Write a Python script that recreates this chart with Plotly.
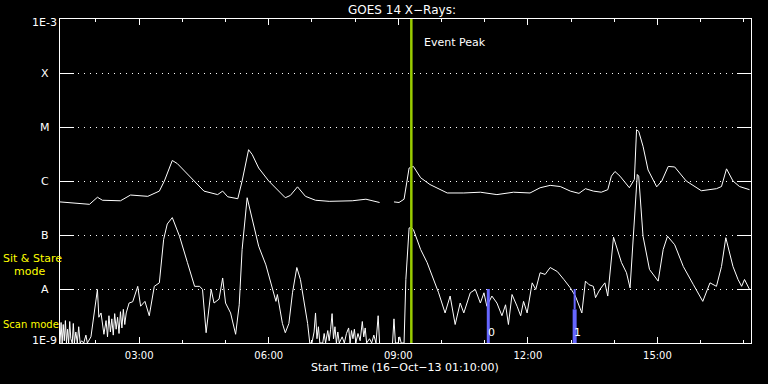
import plotly.graph_objects as go
import pandas as pd
import numpy as np

START = "2013-10-16 01:10:00"
END = "2013-10-16 17:10:00"

# Long channel (1-8 A) : minutes after start, flux W/m^2
long_min = [0, 41, 52, 59, 84, 98, 122, 138, 145, 156, 163, 184, 200, 219, 226, 233, 247,
            253, 262, 267, 276, 290, 313, 320, 330, 341, 355, 374, 406, 425, 444, 454,
            464, 471, 478, 485, 491, 501, 514, 538, 561, 584, 607, 630, 653, 667, 681, 695,
            709, 721, 730, 741, 752, 761, 766, 771, 778, 791, 798, 801, 804, 810, 817, 829,
            836, 845, 854, 870, 891, 912, 919, 926, 935, 944, 958]
long_flux = [4.1e-7, 3.7e-7, 5.0e-7, 4.4e-7, 4.3e-7, 5.5e-7, 5.2e-7, 6.5e-7, 1.0e-6, 2.4e-6,
             2.1e-6, 1.07e-6, 6.5e-7, 5.6e-7, 6.5e-7, 5.1e-7, 4.7e-7,
             1.0e-6, 3.8e-6, 3.1e-6, 1.74e-6, 1.0e-6, 4.9e-7, 5.4e-7, 7.8e-7, 5.2e-7, 4.4e-7,
             4.2e-7, 4.3e-7, 4.6e-7, 4.0e-7, None,
             4.1e-7, 4.0e-7, 4.6e-7, 1.74e-6, 1.86e-6, 1.15e-6, 8.6e-7, 6.0e-7, 6.0e-7, 6.2e-7,
             5.6e-7, 6.2e-7, 6.0e-7, 7.5e-7, 8.3e-7, 7.9e-7,
             6.5e-7, 5.9e-7, 7.2e-7, 6.5e-7, 6.2e-7, 6.9e-7, 1.23e-6, 1.5e-6, 1.23e-6, 7.5e-7,
             1.07e-6, 8.9e-6, 8.3e-6, 4.4e-6, 1.6e-6, 7.8e-7,
             1.0e-6, 1.86e-6, 1.82e-6, 1.0e-6, 6.6e-7, 7.2e-7, 7.9e-7, 1.68e-6, 1.0e-6, 7.9e-7,
             6.9e-7]

# Short channel (0.5-4 A)
short_min = [0, 1.5, 3, 4.5, 6, 7.5, 9, 10.5, 12, 13.5, 15, 17, 18.5, 20, 22, 24, 26, 28, 30,
             33, 36, 38, 43, 47.5, 52, 54, 57, 61, 64, 66, 68, 70, 72, 74, 76, 78, 80, 82, 84,
             86, 88, 90, 92, 96, 101, 108, 112, 118, 124, 131, 138, 144, 149, 156, 166, 177,
             187, 194, 198, 203, 210, 214, 221, 226, 230, 237, 244, 249, 253, 260, 267, 276,
             286, 295, 300, 302, 309, 313, 318, 323, 329, 334, 339, 344, 347, 350, 353, 355,
             357, 359, 361, 365, 367, 369, 372, 374, 376, 378, 380, 382, 384, 386, 388, 392,
             395, 398, 401, 403, 405, 407, 409, 411, 414, 417, 420, 422, 424, 426, 430, 433,
             436, 439, 442, 444, 454, 462, 464, 466, 470, 472, 474, 478, 480.5, 485, 488, 491,
             501, 510, 519, 526, 535, 542, 549, 556, 561, 570, 577, 584, 589, 593, 600, 607,
             614, 619, 623, 628, 635, 640, 644, 649, 656, 661, 667, 674, 681, 691, 700, 709,
             716, 723, 725, 730, 735, 741, 744, 750, 757, 761, 766, 769, 780, 787, 792, 797,
             802, 804, 810, 819, 831, 838, 844, 854, 866, 880, 893, 903, 912, 919, 925, 935,
             942, 947, 951, 958]
short_flux = [1.0e-9, 2.4e-9, 1.0e-9, 2.2e-9, 1.1e-9, 2.6e-9, 1.0e-9, 1.8e-9, 1.0e-9, 2.5e-9,
              1.2e-9, 1.0e-9, 2.3e-9, 1.0e-9, 1.6e-9, 1.0e-9, 2.0e-9, 1.0e-9, 1.1e-9,
              1.0e-9, 1.4e-9, 1.0e-9, 1.3e-9, 3.6e-9, 9.8e-9, 3.0e-9, 3.6e-9, 1.45e-9, 2.6e-9,
              1.3e-9, 3.2e-9, 1.6e-9, 2.8e-9, 1.4e-9, 3.5e-9, 1.8e-9, 3.0e-9, 1.5e-9, 3.8e-9,
              1.9e-9, 4.2e-9, 2.2e-9, 3.6e-9, 5.5e-9, 5.8e-9, 1.12e-8, 4.8e-9, 5.9e-9, 3.2e-9,
              1.12e-8, 1.3e-8, 8.3e-8, 1.6e-7, 2.1e-7, 9.5e-8, 3.1e-8,
              1.12e-8, 1.12e-8, 9.8e-9, 1.55e-9, 9.8e-9, 5.5e-9, 6.5e-9, 1.6e-8, 5.5e-9, 3.6e-9,
              1.45e-9, 5.1e-9, 5.4e-8, 4.9e-7, 1.95e-7, 6.2e-8,
              2.8e-8, 9.8e-9, 5.9e-9, 7.9e-9, 2.3e-9, 1.55e-9, 2.3e-9, 8.5e-9, 2.5e-8, 1.5e-8,
              5.5e-9, 2.3e-9, 1.0e-9, 1.0e-9, 1.6e-9, 3.6e-9,
              1.2e-9, 2.0e-9, 1.0e-9, 1.0e-9, 1.5e-9, 1.0e-9, 1.7e-9, 1.1e-9, 1.8e-9, 3.5e-9,
              1.2e-9, 2.0e-9, 1.0e-9, 1.6e-9, 1.0e-9, 1.3e-9,
              1.0e-9, 1.5e-9, 1.9e-9, 1.0e-9, 1.7e-9, 1.2e-9, 1.8e-9, 1.0e-9, 1.5e-9, 1.1e-9,
              2.5e-9, 1.3e-9, 1.9e-9, 1.0e-9, 1.2e-9, 1.0e-9,
              1.4e-9, 1.0e-9, 3.2e-9, 1.0e-9, None, 1.0e-9, 2.8e-9, 1.0e-9, 1.0e-9, 1.3e-9,
              1.0e-9, 1.0e-9, 1.5e-8, 1.35e-7, 1.38e-7, 1.26e-7,
              5.4e-8, 3.1e-8, 1.5e-8, 8.5e-9, 3.6e-9, 7.4e-9, 2.2e-9, 5.5e-9, 3.6e-9, 8.5e-9,
              9.8e-9, 5.5e-9, 8.5e-9, 4.8e-9, 7.4e-9, 5.5e-9,
              3.2e-9, 5.1e-9, 2.2e-9, 7.9e-9, 4.8e-9, 3.2e-9, 5.9e-9, 3.6e-9, 1.3e-8, 9.8e-9,
              2.0e-8, 1.86e-8, 2.5e-8, 2.1e-8, 1.5e-8, 1.05e-8,
              7.4e-9, 4.2e-9, 3.6e-9, 1.4e-8, 1.2e-8, 1.12e-8, 6.9e-9, 9.8e-9, 1.3e-8, 7.4e-9,
              4.1e-8, 9.1e-8, 3.1e-8, 2.0e-8, 1.05e-8, 9.5e-8,
              1.32e-6, 1.23e-6, 9.5e-8, 2.3e-8, 1.4e-8, 5.4e-8, 9.5e-8, 6.6e-8, 2.6e-8, 1.2e-8,
              5.9e-9, 1.3e-8, 1.12e-8, 2.6e-8, 8.9e-8, 2.6e-8,
              1.5e-8, 1.12e-8, 1.5e-8, 9.8e-9]

event_peak_time = "2013-10-16 09:18:06"
mode_bar_times = ["2013-10-16 11:05:00", "2013-10-16 13:05:00"]
mode_bar_labels = ["0", "1"]

level_vals = [1e-9, 1e-8, 1e-7, 1e-6, 1e-5, 1e-4, 1e-3]
level_text = ["1E-9", "A", "B", "C", "M", "X", "1E-3"]

start = pd.Timestamp(START)
t_long = [start + pd.Timedelta(minutes=m) for m in long_min]
t_short = [start + pd.Timedelta(minutes=m) for m in short_min]

WHITE = "#ffffff"
FONT = "DejaVu Sans"

fig = go.Figure()
fig.add_trace(go.Scatter(x=t_long, y=long_flux, mode="lines",
                         line=dict(color=WHITE, width=1), connectgaps=False, showlegend=False))
fig.add_trace(go.Scatter(x=t_short, y=short_flux, mode="lines",
                         line=dict(color=WHITE, width=1), connectgaps=False, showlegend=False))
# event peak line
fig.add_trace(go.Scatter(x=[event_peak_time, event_peak_time], y=[1e-9, 1e-3], mode="lines",
                         line=dict(color="#99cc00", width=2.5), showlegend=False))
# mode bars
BLUE = "#6666ff"
fig.add_trace(go.Scatter(x=[mode_bar_times[0]] * 2, y=[1e-9, 1e-8], mode="lines",
                         line=dict(color=BLUE, width=3), showlegend=False))
fig.add_trace(go.Scatter(x=[mode_bar_times[1]] * 2, y=[4.2e-9, 1e-8], mode="lines",
                         line=dict(color=BLUE, width=2), showlegend=False))
fig.add_trace(go.Scatter(x=[mode_bar_times[1]] * 2, y=[1e-9, 4.2e-9], mode="lines",
                         line=dict(color=BLUE, width=4), showlegend=False))

ann = []
# y labels
for v, t in zip(level_vals, level_text):
    ys = 0
    if t == "1E-3":
        ys = -3
    if t == "1E-9":
        ys = 3
    ann.append(dict(x=-0.0224, xref="paper", y=np.log10(v), yref="y", text=t, showarrow=False,
                    xanchor="center", yanchor="middle", yshift=ys,
                    font=dict(family=FONT, size=11, color=WHITE)))
ann.append(dict(x=0.495, xref="paper", y=1.028, yref="paper", text="GOES 14 X\u2212Rays:",
                showarrow=False, xanchor="center", yanchor="middle",
                font=dict(family=FONT, size=12, color=WHITE)))
ann.append(dict(x=0.4997, xref="paper", y=-0.077, yref="paper",
                text="Start Time (16\u2212Oct\u221213 01:10:00)", showarrow=False,
                xanchor="center", yanchor="middle",
                font=dict(family=FONT, size=11, color=WHITE)))
ann.append(dict(x="2013-10-16 09:33:24", xref="x", y=0.926, yref="paper", text="Event Peak",
                showarrow=False, xanchor="left", yanchor="middle",
                font=dict(family=FONT, size=11, color=WHITE)))
YEL = "#ffff00"
ann.append(dict(x=-0.0839, xref="paper", y=0.262, yref="paper", text="Sit & Stare",
                showarrow=False, xanchor="left", yanchor="middle", borderpad=0,
                font=dict(family=FONT, size=11, color=YEL)))
ann.append(dict(x=-0.0685, xref="paper", y=0.220, yref="paper", text="mode",
                showarrow=False, xanchor="left", yanchor="middle", borderpad=0,
                font=dict(family=FONT, size=11, color=YEL)))
ann.append(dict(x=-0.0839, xref="paper", y=0.0586, yref="paper", text="Scan mode",
                showarrow=False, xanchor="left", yanchor="middle", borderpad=0,
                font=dict(family=FONT, size=10, color=YEL)))
for t, lab in zip(["2013-10-16 11:09:00", "2013-10-16 13:09:00"], mode_bar_labels):
    ann.append(dict(x=t, xref="x", y=-8.80, yref="y", text=lab, showarrow=False,
                    xanchor="center", yanchor="middle",
                    font=dict(family=FONT, size=11, color=WHITE)))

fig.update_layout(
    width=768, height=384,
    margin=dict(l=60, r=17, t=19, b=41),
    paper_bgcolor="#000000", plot_bgcolor="#000000",
    annotations=ann,
    showlegend=False,
)
fig.update_xaxes(
    type="date", range=[START, END],
    tickformat="%H:%M", tick0="2013-10-16 00:00:00", dtick=3 * 3600000,
    ticks="inside", ticklen=6, tickcolor=WHITE, tickwidth=1,
    minor=dict(dtick=3600000, ticks="inside", ticklen=3, tickcolor=WHITE, showgrid=False),
    showline=True, linecolor=WHITE, linewidth=1, mirror="allticks",
    showgrid=False, zeroline=False, ticklabelstandoff=3,
    tickfont=dict(family=FONT, size=10, color=WHITE),
)
fig.update_yaxes(
    type="log", range=[-9, -3],
    tickvals=level_vals, ticktext=level_text, showticklabels=False,
    ticks="inside", ticklen=14, tickcolor=WHITE, tickwidth=1,
    showline=True, linecolor=WHITE, linewidth=1, mirror="allticks",
    showgrid=True, gridcolor=WHITE, gridwidth=1, griddash="1px,5px",
    zeroline=False,
)

fig.write_html("out.html")
